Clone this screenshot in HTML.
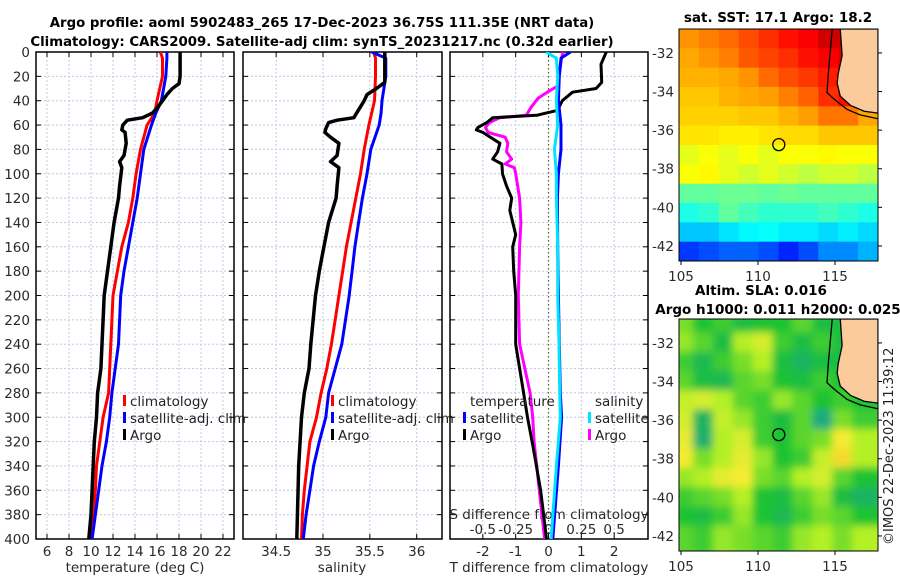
<!DOCTYPE html>
<html><head><meta charset="utf-8"><style>
html,body{margin:0;padding:0;background:#fff;}
svg{display:block;font-family:"DejaVu Sans","Liberation Sans",sans-serif;}
</style></head><body>
<svg id="fig" width="900" height="580" viewBox="0 0 900 580" xmlns="http://www.w3.org/2000/svg">
<defs>
<clipPath id="cp1"><rect x="36" y="52" width="198" height="487"/></clipPath>
<clipPath id="cp2"><rect x="243" y="52" width="199" height="487"/></clipPath>
<clipPath id="cp3"><rect x="450" y="52" width="198" height="487"/></clipPath>
<clipPath id="cpm1"><rect x="679" y="29" width="199" height="232"/></clipPath>
<clipPath id="cpm2"><rect x="679" y="319" width="199" height="232"/></clipPath>
<filter id="blur"><feGaussianBlur stdDeviation="4"/></filter>
</defs>
<text x="322" y="27" text-anchor="middle" font-size="13.3" font-weight="bold" fill="#000">Argo profile: aoml 5902483_265 17-Dec-2023 36.75S 111.35E (NRT data)</text>
<text x="322" y="46" text-anchor="middle" font-size="13.3" font-weight="bold" fill="#000">Climatology: CARS2009. Satellite-adj clim: synTS_20231217.nc (0.32d earlier)</text>
<text x="778" y="22" text-anchor="middle" font-size="13.5" font-weight="bold">sat. SST: 17.1 Argo: 18.2</text>
<text x="761" y="295" text-anchor="middle" font-size="13.5" font-weight="bold">Altim. SLA: 0.016</text>
<text x="778" y="314" text-anchor="middle" font-size="13.5" font-weight="bold">Argo h1000: 0.011 h2000: 0.025</text>
<text transform="translate(893,545) rotate(-90)" font-size="13" fill="#222">©IMOS 22-Dec-2023 11:39:12</text>
</svg>
<script>
// ---------- data ----------
const depthTicks = [0,20,40,60,80,100,120,140,160,180,200,220,240,260,280,300,320,340,360,380,400];
const tempTicks = [6,8,10,12,14,16,18,20,22];
const salTicks = [34.5,35,35.5,36];
const salTickLabels = ["34.5","35","35.5","36"];
const dTTicks = [-2,-1,0,1,2];
const dSTickLabels = ["-0.5","-0.25","0","0.25","0.5"];
const dSTicks = [-0.5,-0.25,0,0.25,0.5];

const climDepth = [0,5,20,40,50,60,80,100,120,140,160,180,200,220,240,260,280,300,320,340,360,380,400];
const climT = [16.3,16.5,16.5,16.0,15.8,15.1,14.5,14.1,13.8,13.4,12.8,12.4,12.0,11.9,11.8,11.7,11.6,11.1,10.8,10.5,10.4,10.2,9.9];
const satT = [16.9,16.9,16.8,16.4,15.9,15.5,14.8,14.5,14.2,13.8,13.4,13.0,12.7,12.6,12.5,12.2,11.9,11.7,11.4,11.0,10.7,10.4,10.1];
const argoTDepth = [0,20,26,30,35,45,50,54,56,60,64,66,75,85,90,95,110,120,140,160,180,200,240,260,280,300,320,340,360,380,400];
const argoT = [18.1,18.1,18.0,17.4,16.9,16.1,15.6,14.7,13.3,12.9,12.8,13.1,13.2,13.0,12.6,12.8,12.6,12.5,12.1,11.8,11.5,11.2,11.0,10.9,10.6,10.5,10.3,10.2,10.1,10.0,9.8];

const climS = [35.54,35.56,35.56,35.55,35.52,35.49,35.44,35.40,35.35,35.30,35.25,35.21,35.17,35.13,35.09,35.04,34.98,34.93,34.86,34.83,34.80,34.78,34.77];
const satS = [35.52,35.67,35.67,35.63,35.62,35.60,35.51,35.47,35.42,35.38,35.34,35.31,35.28,35.24,35.20,35.13,35.06,35.03,34.96,34.90,34.86,34.82,34.79];
const argoSDepth = [0,25,30,35,40,50,54,56,58,63,66,70,75,85,90,95,110,120,140,160,180,200,240,260,280,300,340,400];
const argoS = [35.66,35.66,35.57,35.47,35.44,35.36,35.33,35.15,35.06,35.03,35.02,35.08,35.17,35.15,35.08,35.17,35.15,35.14,35.06,35.01,34.96,34.92,34.87,34.85,34.80,34.77,34.74,34.72];

const dTArgoDepth = [0,10,25,30,33,40,48,50,52,54,58,62,64,66,75,82,88,92,100,110,120,130,140,150,160,180,200,240,280,300,320,340,360,380,400];
const dTArgo = [1.76,1.6,1.62,1.45,0.73,0.42,0.27,-0.06,-0.36,-1.7,-1.88,-2.15,-2.2,-2.0,-1.48,-1.55,-1.7,-1.42,-1.4,-1.28,-1.12,-1.18,-1.09,-1.0,-1.09,-1.06,-1.0,-1.0,-0.76,-0.64,-0.5,-0.37,-0.24,-0.15,-0.06];
const dSatDepth = [0,5,20,40,60,80,100,120,160,200,240,280,300,340,400];
const dTSat = [0.67,0.38,0.33,0.3,0.38,0.38,0.3,0.27,0.28,0.3,0.33,0.36,0.4,0.3,0.13];
const dSSat = [-0.02,0.06,0.07,0.06,0.07,0.045,0.06,0.06,0.07,0.07,0.08,0.085,0.09,0.06,0.02];
const dSArgoDepth = [0,5,20,28,33,38,45,52,54,58,62,66,70,75,82,88,92,95,100,120,140,160,200,240,280,300,320,360,400];
const dSArgo = [0.11,0.1,0.08,0.07,-0.01,-0.08,-0.13,-0.17,-0.37,-0.45,-0.48,-0.46,-0.33,-0.31,-0.32,-0.28,-0.33,-0.26,-0.25,-0.22,-0.21,-0.22,-0.23,-0.22,-0.14,-0.12,-0.11,-0.07,-0.03];

const mapLatTicks = [-32,-34,-36,-38,-40,-42];
const mapLonTicks = [105,110,115];
const sstGrid = [
 [.73,.75,.77,.80,.83,.86,.88,.92,.92,null],
 [.71,.73,.75,.79,.81,.83,.86,.88,.90,null],
 [.70,.70,.71,.73,.77,.80,.82,.85,.88,null],
 [.68,.68,.70,.71,.72,.75,.78,.83,.86,.83],
 [.67,.67,.67,.68,.68,.70,.72,.76,.76,.71],
 [.65,.65,.64,.64,.65,.66,.66,.68,.68,.68],
 [.60,.62,.60,.62,.60,.62,.62,.63,.62,.62],
 [.62,.63,.60,.58,.60,.58,.56,.58,.58,.56],
 [.47,.47,.48,.48,.47,.48,.47,.47,.47,.47],
 [.40,.42,.47,.44,.42,.42,.42,.44,.42,.40],
 [.32,.32,.35,.37,.38,.36,.36,.34,.36,.34],
 [.18,.20,.22,.22,.20,.16,.20,.26,.26,.30]];
const slaGrid = [
 [.50,.35,.40,.30,.35,.35,.45,.30,.30,.30],
 [.55,.45,.30,.60,.70,.40,.30,.40,.30,.30],
 [.40,.25,.40,.50,.60,.30,.20,.30,.30,.30],
 [.45,.30,.25,.45,.50,.35,.30,.40,.35,.30],
 [.65,.70,.60,.45,.40,.55,.45,.35,.40,.35],
 [.70,.20,.65,.55,.40,.30,.45,.10,.50,.40],
 [.75,.15,.60,.70,.40,.35,.45,.50,.80,.60],
 [.80,.50,.60,.75,.55,.35,.40,.65,.85,.60],
 [.55,.60,.75,.80,.50,.45,.60,.70,.45,.35],
 [.40,.45,.50,.60,.35,.30,.45,.55,.30,.20],
 [.35,.30,.40,.55,.35,.25,.40,.50,.45,.35],
 [.45,.40,.55,.50,.45,.40,.55,.60,.50,.60]];
const landLon = [115.34,115.46,115.2,115.14,115.34,116.01,116.89,117.79,117.79];
const landLat = [-30.76,-32.14,-33.1,-33.58,-34.24,-34.72,-35.02,-35.12,-30.76];
const isoLon = [114.82,114.56,114.48,115.03,115.79,116.63,117.79];
const isoLat = [-30.76,-33.1,-34.06,-34.45,-34.93,-35.21,-35.41];
const floatLon = 111.35, floatLat = -36.75;

// ---------- helpers ----------
const NS = "http://www.w3.org/2000/svg";
const svg = document.getElementById('fig');
function mk(tag, attrs, parent){ const e=document.createElementNS(NS,tag); for(const k in attrs) e.setAttribute(k,attrs[k]); (parent||svg).appendChild(e); return e; }
const Y0=52, Y1=539;
const yD = d => Y0 + d/400*(Y1-Y0);
function lin(d0,d1,r0,r1){ return v => r0 + (v-d0)/(d1-d0)*(r1-r0); }
const xT = lin(5,23,36,234);
const xS = lin(34.146,36.27,243,442);
const xdT = lin(-3,3.03,450,648);
const xdS = v => xdT(v*4);

function panel(name, x0, x1, xticks, xfun){
  const g = mk('g',{});
  
  
  xticks.forEach(t=>{ const gl=mk('line',{x1:xfun(t),x2:xfun(t),y1:Y0,y2:Y1,stroke:'#c3c8e4','stroke-width':1,'stroke-dasharray':'2,2'},g);
    
     });
  depthTicks.forEach(d=>{ const gl=mk('line',{x1:x0,x2:x1,y1:yD(d),y2:yD(d),stroke:'#c3c8e4','stroke-width':1,'stroke-dasharray':'2,2'},g);
    
     });
  xticks.forEach(t=>{ const x=xfun(t);
    mk('line',{x1:x,x2:x,y1:Y1,y2:Y1-5,stroke:'#000'},g); mk('line',{x1:x,x2:x,y1:Y0,y2:Y0+5,stroke:'#000'},g); });
  depthTicks.forEach(d=>{ const y=yD(d);
    mk('line',{x1:x0,x2:x0+5,y1:y,y2:y,stroke:'#000'},g); mk('line',{x1:x1,x2:x1-5,y1:y,y2:y,stroke:'#000'},g); });
  const fr=mk('rect',{x:x0,y:Y0,width:x1-x0,height:Y1-Y0,fill:'none',stroke:'#000','stroke-width':1.5},g);
  
  
  return g;
}
function series(name, depths, vals, xfun, color, clip, w){
  const pts = depths.map((d,i)=>xfun(vals[i]).toFixed(1)+','+yD(d).toFixed(1)).join(' ');
  const p = mk('polyline',{points:pts,fill:'none',stroke:color,'stroke-width':w||3,'stroke-linejoin':'round','clip-path':'url(#'+clip+')'});
  
  
}
function label(txt,x,y,anchor,size,name,fill){
  const t=mk('text',{x:x,y:y,'text-anchor':anchor||'middle','font-size':size||13,fill:fill||'#2a2a2a'});
  t.textContent=txt;
  
  
  return t;
}
function legendItem(x,y,color,txt,name){
  const r=mk('rect',{x:x,y:y-11,width:3,height:11,fill:color});
  
  
  label(txt,x+7,y,'start',13.5,name,'#222');
}

// ---------- panels ----------
panel('temperature-panel',36,234,tempTicks,xT);
panel('salinity-panel',243,442,salTicks,xS);
panel('difference-panel',450,648,dTTicks.filter(t=>t!==0),xdT);
const zl = mk('line',{x1:xdT(0),x2:xdT(0),y1:Y0,y2:Y1,stroke:'#555533','stroke-width':1.2,'stroke-dasharray':'1.5,2.5'});


mk('line',{x1:xdT(0),x2:xdT(0),y1:Y1,y2:Y1-5,stroke:'#000'}); mk('line',{x1:xdT(0),x2:xdT(0),y1:Y0,y2:Y0+5,stroke:'#000'});

depthTicks.forEach(d=>label(String(d),30,yD(d)+5,'end',13.5,'y-tick-label'));
tempTicks.forEach(t=>label(String(t),xT(t),556,'middle',13.5,'temp-tick-label'));
salTicks.forEach((t,i)=>label(salTickLabels[i],xS(t),556,'middle',13.5,'sal-tick-label'));
dTTicks.forEach(t=>label(String(t),xdT(t),556,'middle',13.5,'dT-tick-label'));
dSTicks.forEach((t,i)=>label(dSTickLabels[i],xdS(t),534,'middle',13.5,'dS-tick-label'));
label('temperature (deg C)',135,572,'middle',13.5,'x-axis-title-temperature');
label('salinity',342,572,'middle',13.5,'x-axis-title-salinity');
label('T difference from climatology',549,572,'middle',13.5,'x-axis-title-T-diff');
label('S difference from climatology',549,519,'middle',13.5,'x-axis-title-S-diff');

series('temp-climatology-line',climDepth,climT,xT,'#ff0000','cp1');
series('temp-satellite-line',climDepth,satT,xT,'#0000ff','cp1');
series('temp-argo-line',argoTDepth,argoT,xT,'#000000','cp1',3.5);
series('sal-climatology-line',climDepth,climS,xS,'#ff0000','cp2');
series('sal-satellite-line',climDepth,satS,xS,'#0000ff','cp2');
series('sal-argo-line',argoSDepth,argoS,xS,'#000000','cp2',3.5);
series('dS-argo-line',dSArgoDepth,dSArgo,xdS,'#ff00ff','cp3');
series('dT-argo-line',dTArgoDepth,dTArgo,xdT,'#000000','cp3');
series('dT-satellite-line',dSatDepth,dTSat,xdT,'#0000ff','cp3');
series('dS-satellite-line',dSatDepth,dSSat,xdS,'#00e5ff','cp3');

legendItem(123,406,'#ff0000','climatology','legend-climatology');
legendItem(123,423,'#0000ff','satellite-adj. clim','legend-satellite-adj');
legendItem(123,440,'#000000','Argo','legend-argo');
legendItem(331,406,'#ff0000','climatology','legend2-climatology');
legendItem(331,423,'#0000ff','satellite-adj. clim','legend2-satellite-adj');
legendItem(331,440,'#000000','Argo','legend2-argo');
label('temperature',470,406,'start',13.5,'legend-temperature-heading','#222');
label('salinity',595,406,'start',13.5,'legend-salinity-heading','#222');
legendItem(463,423,'#0000ff','satellite','legend-dT-satellite');
legendItem(463,440,'#000000','Argo','legend-dT-argo');
legendItem(588,423,'#00e5ff','satellite','legend-dS-satellite');
legendItem(588,440,'#ff00ff','Argo','legend-dS-argo');

// ---------- maps ----------
function clamp(v){return Math.max(0,Math.min(1,v));}
function jet(v){ const r=clamp(1.5-Math.abs(4*v-3)), g=clamp(1.5-Math.abs(4*v-2)), b=clamp(1.5-Math.abs(4*v-1));
  return 'rgb('+Math.round(r*255)+','+Math.round(g*255)+','+Math.round(b*255)+')'; }
const slaStops=[[0,[26,160,160]],[0.35,[30,195,50]],[0.6,[180,240,40]],[0.8,[245,235,50]],[1,[245,165,30]]];
function slaCol(v){ for(let i=1;i<slaStops.length;i++){ if(v<=slaStops[i][0]){ const a=slaStops[i-1],b=slaStops[i],f=(v-a[0])/(b[0]-a[0]);
  return 'rgb('+a[1].map((c,k)=>Math.round(c+(b[1][k]-c)*f)).join(',')+')'; } } return 'rgb(245,165,30)'; }
const LON0=104.87, LON1=117.79, LAT0=-30.76, LAT1=-42.78;
function drawMap(name, top, grid, cmap, clip, blur){
  const xL = lin(LON0,LON1,679,878), yL = lin(LAT0,LAT1,top,top+232);
  const g = mk('g',{'clip-path':'url(#'+clip+')'});
  
  
  const cg = mk('g', blur?{filter:'url(#blur)'}:{}, g);
  const nr=grid.length, nc=grid[0].length, dLat=(LAT0-LAT1)/nr, dLon=(LON1-LON0)/nc;
  grid.forEach((row,r)=>row.forEach((v,c)=>{
    const val = v===null ? row[c-1] : v;
    const lon0=LON0+c*dLon, lat0=LAT0-r*dLat;
    const x=xL(lon0)-(blur?6:0), y=yL(lat0)-(blur?6:0);
    const w=xL(lon0+dLon)-xL(lon0)+(blur?12:0.6), h=yL(lat0-dLat)-yL(lat0)+(blur?12:0.6);
    const cell=mk('rect',{x:x,y:y,width:w,height:h,fill:cmap(val)},cg);
    
    
  }));
  const land = mk('polygon',{points:landLon.map((l,i)=>xL(l)+','+yL(landLat[i])).join(' '),fill:'#fbcb9c',stroke:'#000','stroke-width':1.3},g);
  
  
  const iso = mk('polyline',{points:isoLon.map((l,i)=>xL(l)+','+yL(isoLat[i])).join(' '),fill:'none',stroke:'#000','stroke-width':1.3},g);
  
  
  const fl = mk('circle',{cx:xL(floatLon),cy:yL(floatLat),r:6,fill:'none',stroke:'#000','stroke-width':1.3},g);
  
  
  const fr = mk('rect',{x:679,y:top,width:199,height:232,fill:'none',stroke:'#000','stroke-width':1});
  
  
  mapLatTicks.forEach(t=>{ const y=yL(t); mk('line',{x1:878,x2:882,y1:y,y2:y,stroke:'#000'});
    label(String(t),674,y+5,'end',13.5,'map-lat-label'); });
  mapLonTicks.forEach(t=>{ const x=xL(t); mk('line',{x1:x,x2:x,y1:top+232,y2:top+236,stroke:'#000'});
    label(String(t),x,top+252,'middle',13.5,'map-lon-label'); });
}
drawMap('sst-map',29,sstGrid,jet,'cpm1',false);
drawMap('sla-map',319,slaGrid,slaCol,'cpm2',true);
</script>
</body></html>
